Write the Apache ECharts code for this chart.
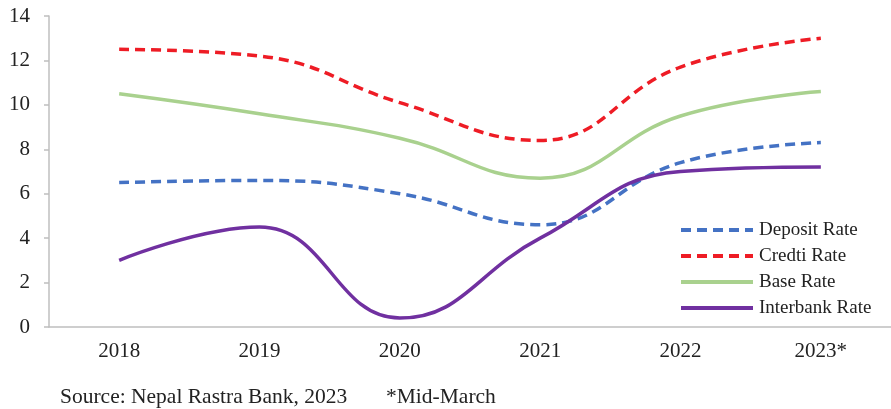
<!DOCTYPE html>
<html>
<head>
<meta charset="utf-8">
<script src="https://cdn.jsdelivr.net/npm/echarts@6/dist/echarts.min.js"></script>
<style>
  html, body { margin: 0; padding: 0; background: #fff; }
  #chart { width: 891px; height: 409px; }
</style>
</head>
<body>
<div id="chart"></div>
<script>
var years = ['2018', '2019', '2020', '2021', '2022', '2023*'];
var depositRate = [6.5, 6.6, 6.0, 4.6, 7.4, 8.3];
var creditRate = [12.5, 12.2, 10.1, 8.4, 11.7, 13.0];
var baseRate = [10.5, 9.6, 8.5, 6.7, 9.5, 10.6];
var interbankRate = [3.0, 4.5, 0.4, 4.0, 7.0, 7.2];

var myChart = echarts.init(document.getElementById('chart'));
var font = 'Liberation Serif';

function makeLine(name, data, color, dashed) {
	return {
		name: name,
		type: 'line',
		smooth: 0.45,
		symbol: 'none',
		data: data,
		lineStyle: { color: color, width: 3.5, type: dashed ? [10, 6] : 'solid' },
		itemStyle: { color: color }
	};
}

var option = {
	backgroundColor: '#fff',
	animation: false,
	grid: { left: 49, top: 16, width: 851, height: 311 },
	legend: {
		orient: 'vertical',
		left: 674,
		top: 215,
		itemWidth: 72,
		itemHeight: 12,
		itemGap: 6,
		itemStyle: { opacity: 0 },
		lineStyle: { width: 4 },
		textStyle: { fontFamily: font, fontSize: 19, lineHeight: 20, color: '#222', padding: [0, 0, 0, 1] },
		data: ['Deposit Rate', 'Credti Rate', 'Base Rate', 'Interbank Rate']
	},
	xAxis: {
		type: 'category',
		data: years,
		boundaryGap: true,
		axisLine: { lineStyle: { color: '#bfbfbf', width: 1.5 } },
		axisTick: { lineStyle: { color: '#bfbfbf', width: 1.5 }, length: 5 },
		axisLabel: { fontFamily: font, fontSize: 21, color: '#222', margin: 14 }
	},
	yAxis: {
		type: 'value',
		min: 0,
		max: 14,
		interval: 2,
		axisLine: { show: true, lineStyle: { color: '#bfbfbf', width: 1.5 } },
		axisTick: { show: true, lineStyle: { color: '#bfbfbf', width: 1.5 }, length: 5 },
		splitLine: { show: false },
		axisLabel: { fontFamily: font, fontSize: 21, color: '#222', margin: 19 }
	},
	graphic: [{
		type: 'text',
		left: 60,
		top: 386,
		style: {
			text: 'Source: Nepal Rastra Bank, 2023',
			font: '21.5px "Liberation Serif"',
			fill: '#222'
		}
	}, {
		type: 'text',
		left: 386,
		top: 386,
		style: {
			text: '*Mid-March',
			font: '21.5px "Liberation Serif"',
			fill: '#222'
		}
	}],
	series: [
		makeLine('Deposit Rate', depositRate, '#4472C4', true),
		makeLine('Credti Rate', creditRate, '#EE1C25', true),
		makeLine('Base Rate', baseRate, '#A9D18E', false),
		makeLine('Interbank Rate', interbankRate, '#7030A0', false)
	]
};

myChart.setOption(option);
</script>
</body>
</html>
